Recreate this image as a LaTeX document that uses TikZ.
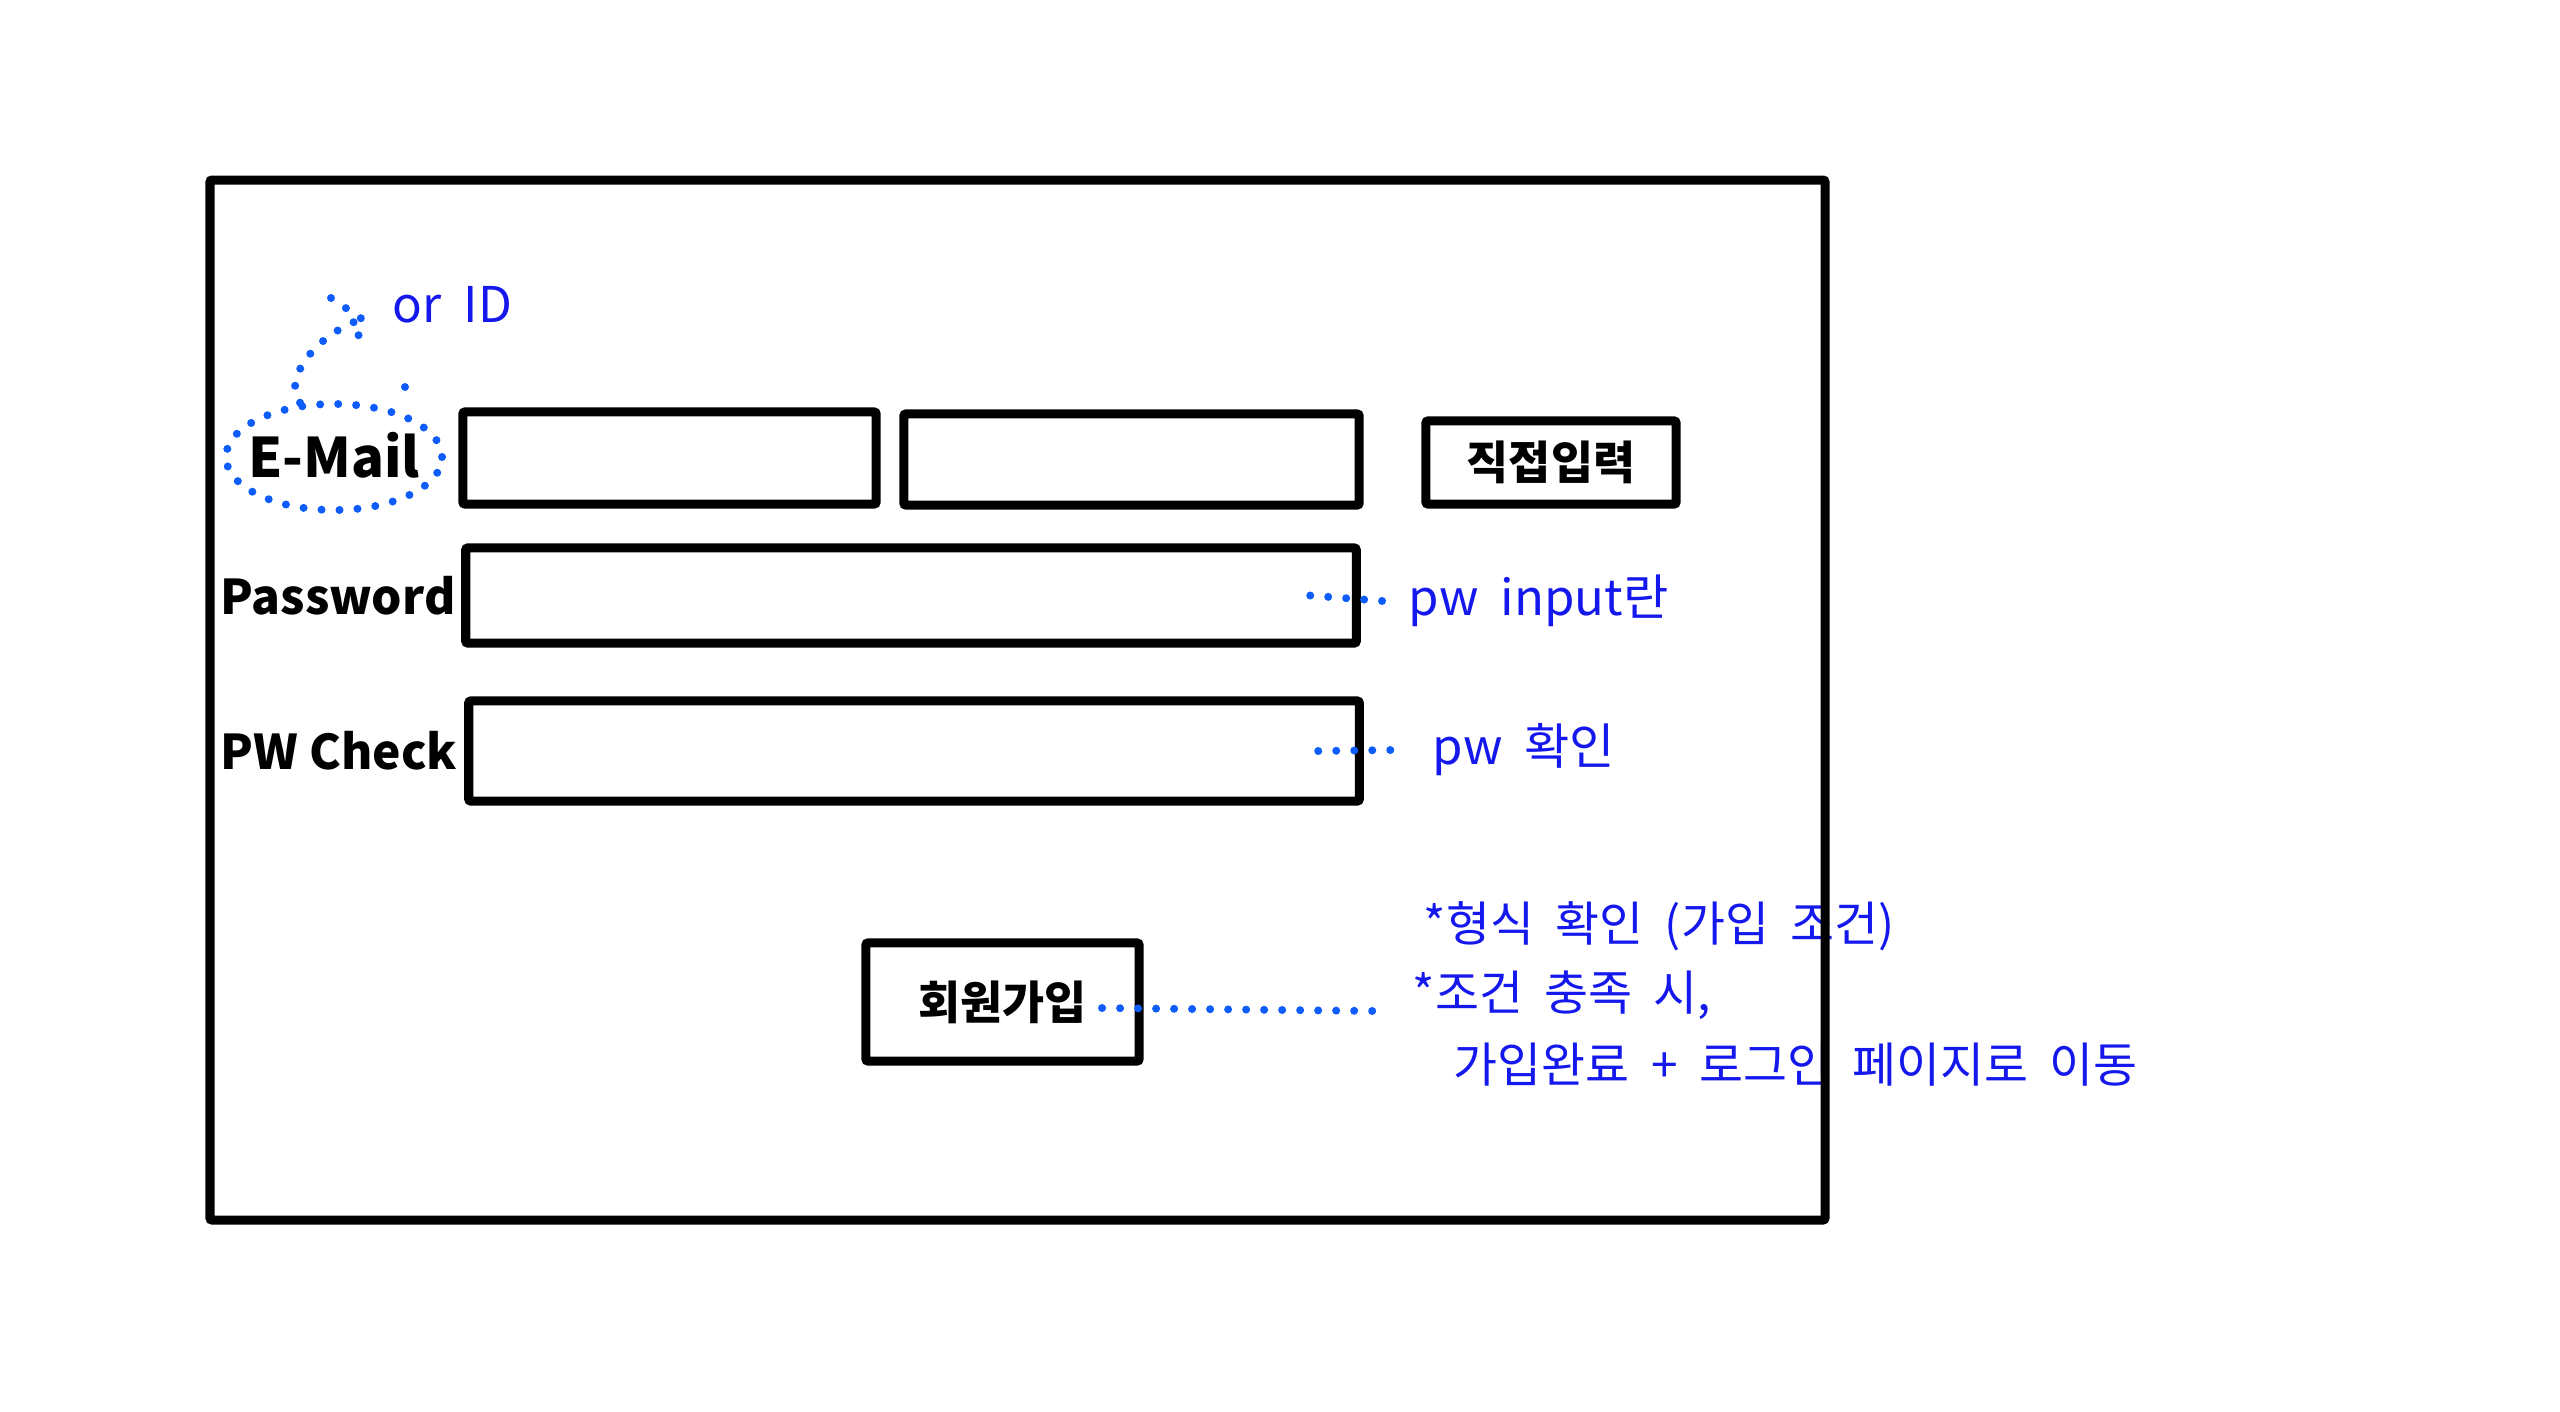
\documentclass[tikz,border=0pt]{standalone}
\usepackage{fontspec}
\setmainfont{Noto Sans CJK KR}
\newfontfamily\notefont[WordSpace=2]{Noto Sans CJK KR}
\usetikzlibrary{shapes.geometric}
\definecolor{notetext}{RGB}{20,24,236}
\definecolor{notedot}{RGB}{14,92,250}
\begin{document}
\begin{tikzpicture}[x=0.01cm, y=-0.01cm,
  field/.style={draw, line width=0.09cm, rounded corners=0.02cm, inner sep=0pt, outer sep=0pt},
  lbl/.style={font=\fontsize{13.6pt}{16pt}\selectfont\bfseries, inner sep=0pt},
  btn/.style={field, font=\fontsize{13pt}{16pt}\selectfont\bfseries},
  note/.style={text=notetext, font=\notefont\fontsize{13.6pt}{16pt}\selectfont, inner sep=0pt, anchor=west},
  dotline/.style={draw=notedot, line width=0.08cm, line cap=round, dash pattern=on 0pt off 0.18cm}]
\useasboundingbox (0,0) rectangle (2560,1411);

\node[lbl, font=\fontsize{15.5pt}{18pt}\selectfont\bfseries] (email) at (334,455) {E-Mail};
\node[lbl, anchor=west] (pwlbl) at (220,596) {Password};
\node[lbl, anchor=west] (chklbl) at (220,751) {PW Check};

\node[field, minimum width=4.13cm, minimum height=0.92cm] (mail1) at (669.5,458) {};
\node[field, minimum width=4.55cm, minimum height=0.91cm] (mail2) at (1131.5,459.5) {};
\node[btn, minimum width=2.50cm, minimum height=0.83cm] (direct) at (1551,462.5) {직접입력};
\node[field, minimum width=8.90cm, minimum height=0.95cm] (pwbox) at (911,595.5) {};
\node[field, minimum width=8.90cm, minimum height=1.00cm] (chkbox) at (914,751) {};
\node[btn, minimum width=2.73cm, minimum height=1.18cm] (joinbox) at (1002.5,1002) {회원가입};

\node[ellipse, dotline, inner sep=0pt, minimum width=2.16cm, minimum height=1.06cm] (ring) at (334,457) {};
\draw[dotline] (ring.122) .. controls (282,380) and (315,335) .. (362,319);
\draw[dotline] (331,298) -- (362,319) -- (355,352);
\fill[notedot] (405,387) circle (0.04cm);
\node[note, anchor=base west, font=\notefont\fontsize{14pt}{16pt}\selectfont] (orid) at (392,322) {or ID};

\node[note, font=\notefont\fontsize{14pt}{16pt}\selectfont] (pwnote) at (1408,601) {pw input란};
\node[note, font=\notefont\fontsize{14pt}{16pt}\selectfont] (chknote) at (1432,750) {pw 확인};
\draw[dotline] ([xshift=-0.46cm]pwbox.east) -- ([xshift=-0.25cm]pwnote.west);
\draw[dotline] ([xshift=-0.41cm]chkbox.east) -- ([xshift=-0.41cm]chknote.west);

\node[note] (cond1) at (1423,926) {*형식 확인 (가입 조건)};
\node[note] (cond2) at (1412,995) {*조건 충족 시,};
\node[note] (cond3) at (1453,1065) {가입완료 + 로그인 페이지로 이동};
\coordinate (joinend) at (1374,1011);
\draw[dotline] ([xshift=-0.37cm,yshift=-0.06cm]joinbox.east) -- (joinend);

\draw[line width=0.09cm, rounded corners=0.02cm] (210,180) rectangle (1825,1220);
\end{tikzpicture}
\end{document}
